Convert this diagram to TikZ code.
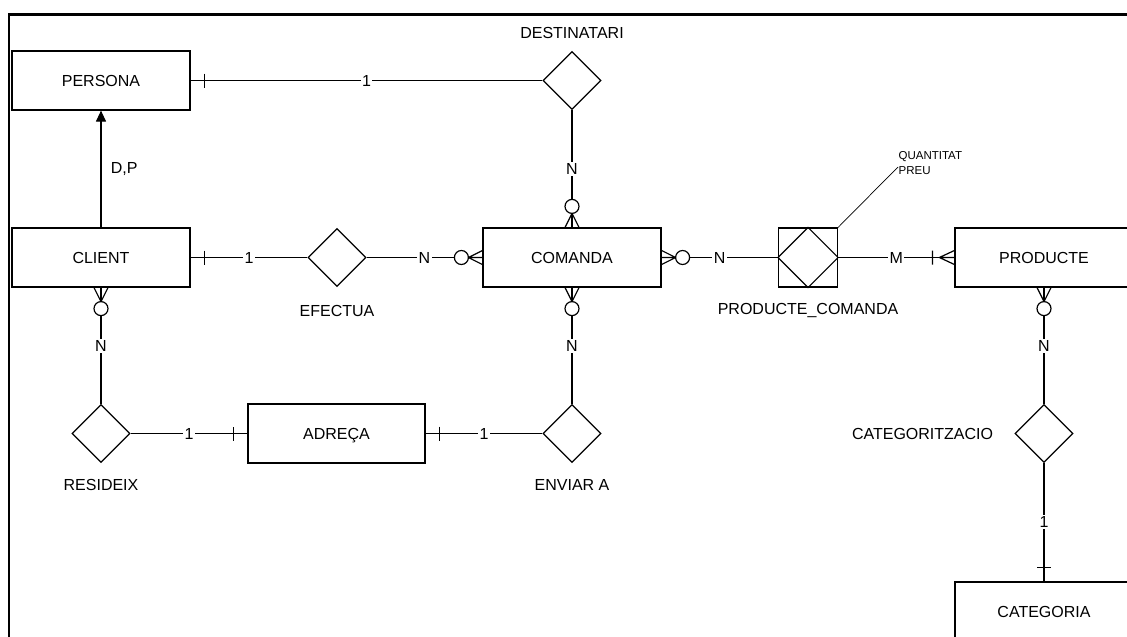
\documentclass[tikz,border=0pt]{standalone}
\usepackage{fontspec}
\setmainfont{Liberation Sans}
\usetikzlibrary{shapes.geometric,arrows.meta}

\tikzset{
  % cardinality marks, drawn from the box edge outwards along local +x
  onetick/.pic={\draw (14,-7) -- (14,7);},
  zeromany/.pic={\draw (0,-7) -- (14,0) -- (0,7) (0,0) -- (14,0);
    \draw[fill=white] (21,0) circle[radius=7pt];},
  onemany/.pic={\draw (0,-7) -- (15,0) -- (0,7) (0,0) -- (15,0) (22,-7) -- (22,7);},
}

\begin{document}
\begin{tikzpicture}[x=1pt,y=-1pt,line width=1.2pt,
  every node/.style={font=\fontsize{16}{19}\selectfont},
  entity/.style={draw,minimum width=178pt,minimum height=59pt,inner sep=0pt,text height=11.5pt,text depth=0pt},
  relation/.style={draw,diamond,minimum width=58pt,minimum height=58pt,inner sep=0pt},
  card/.style={fill=white,inner sep=1.5pt}]
  \clip (0,0) rectangle (1127,637);
  \draw[line width=2.8pt] (9,640) -- (9,14.5) -- (1130,14.5);

  % entities
  \node[entity] (persona) at (101,80.5) {PERSONA};
  \node[entity] (client) at (101,257.5) {CLIENT};
  \node[entity] (comanda) at (572,257.5) {COMANDA};
  \node[entity,minimum width=177pt] (adreca) at (336.5,433.5) {ADREÇA};
  \node[entity] (producte) at (1044,257.5) {PRODUCTE};
  \node[entity] (categoria) at (1044,611.5) {CATEGORIA};

  % relations
  \node[relation] (destinatari) at (572,80.5) {};
  \node[relation] (efectua) at (337,257.5) {};
  \node[draw,minimum width=59pt,minimum height=59pt,inner sep=0pt] (prodcom) at (808,257.5) {};
  \draw (prodcom.north) -- (prodcom.east) -- (prodcom.south) -- (prodcom.west) -- cycle;
  \node[relation] (resideix) at (101,433.5) {};
  \node[relation] (enviar) at (572,433.5) {};
  \node[relation] (categoritz) at (1044,433.5) {};

  \node (destinatariL) at (572,33) {DESTINATARI};
  \node (efectuaL) at (337,310.5) {EFECTUA};
  \node (prodcomL) at (808,310.5) {PRODUCTE\_COMANDA};
  \node (resideixL) at (101,485) {RESIDEIX};
  \node (enviarL) at (572,485) {ENVIAR A};
  \node[anchor=east] (categoritzL) at (997,433.5) {CATEGORITZACIO};
  \node[anchor=west,align=left,inner sep=0pt,font=\fontsize{11.5}{15}\selectfont] (atributs) at (898,163) {QUANTITAT\\PREU};
  \draw[line width=0.7pt] (prodcom.north east) -- ([yshift=-4pt]atributs.west);

  % connectors
  \draw[-{Triangle[width=10pt,length=11pt]}] (client) -- (persona) node[midway,right=6pt] {D,P};
  \draw (persona) -- (destinatari) node[midway,card] {1};
  \draw (destinatari) -- (comanda) node[midway,card] {N};
  \draw (client) -- (efectua) node[midway,card] {1};
  \draw (efectua) -- (comanda) node[midway,card] {N};
  \draw (comanda) -- (prodcom) node[midway,card] {N};
  \draw (prodcom) -- (producte) node[midway,card] {M};
  \draw (client) -- (resideix) node[midway,card] {N};
  \draw (resideix) -- (adreca) node[midway,card] {1};
  \draw (adreca) -- (enviar) node[midway,card] {1};
  \draw (comanda) -- (enviar) node[midway,card] {N};
  \draw (producte) -- (categoritz) node[midway,card] {N};
  \draw (categoritz) -- (categoria) node[midway,card] {1};

  % cardinality marks
  \pic at (persona.east) {onetick};
  \pic at (client.east) {onetick};
  \pic[rotate=-90] at (client.south) {zeromany};
  \pic[rotate=180] at (comanda.west) {zeromany};
  \pic at (comanda.east) {zeromany};
  \pic[rotate=90] at (comanda.north) {zeromany};
  \pic[rotate=-90] at (comanda.south) {zeromany};
  \pic[rotate=180] at (producte.west) {onemany};
  \pic[rotate=-90] at (producte.south) {zeromany};
  \pic[rotate=90] at (categoria.north) {onetick};
  \pic[rotate=180] at (adreca.west) {onetick};
  \pic at (adreca.east) {onetick};
\end{tikzpicture}
\end{document}
